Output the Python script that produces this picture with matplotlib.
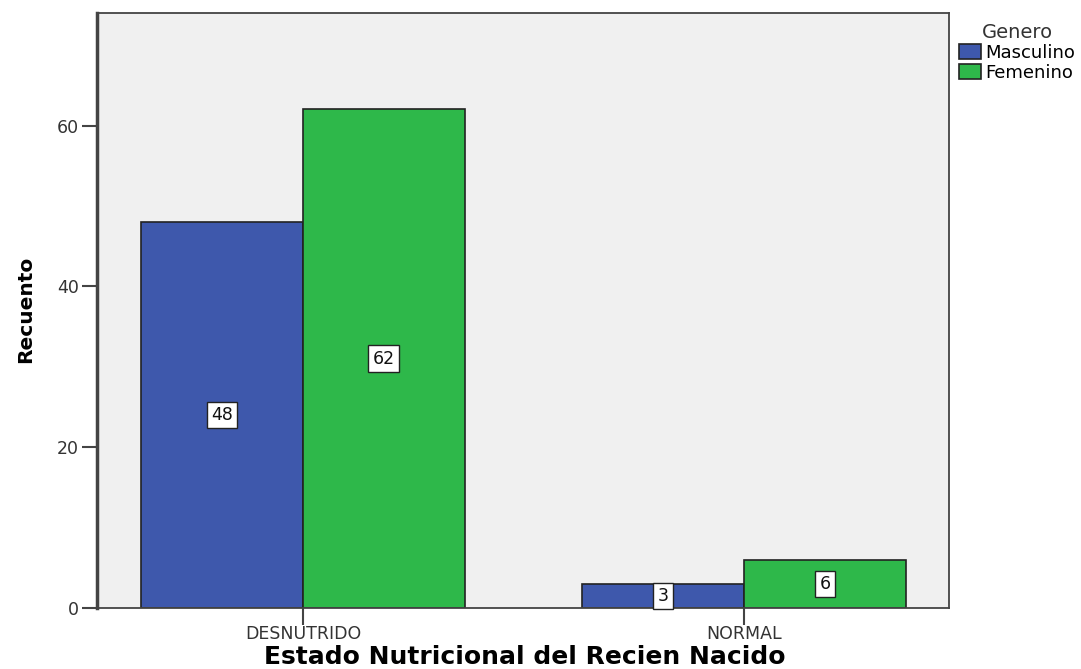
import matplotlib
matplotlib.use("Agg")
import matplotlib.pyplot as plt
import numpy as np

categories = ["DESNUTRIDO", "NORMAL"]
masculino = [48, 3]
femenino = [62, 6]
series_names = ["Masculino", "Femenino"]
colors = ["#3E58AC", "#2EB84A"]

fig = plt.figure(figsize=(10.81, 6.69), dpi=100)
ax = fig.add_axes([0.0897, 0.0912, 0.7882, 0.8894])
ax.set_facecolor("#F0F0F0")

x = np.arange(len(categories))
w = 0.367
for i, (vals, name) in enumerate(zip([masculino, femenino], series_names)):
    offs = (i - 0.5) * w
    ax.bar(x + offs, vals, w, color=colors[i], edgecolor="#222222",
           linewidth=1.2, label=name)
    for xi, v in zip(x + offs, vals):
        ax.text(xi, v / 2, str(v), ha="center", va="center", fontsize=12.5,
                family="DejaVu Sans", color="#111111",
                bbox=dict(boxstyle="square,pad=0.25", facecolor="white",
                          edgecolor="#222222", linewidth=1))

ax.set_xlim(-0.467, 1.465)
ax.set_ylim(0, 74)
ax.set_yticks([0, 20, 40, 60])
ax.set_xticks(x)
ax.set_xticklabels(categories)
ax.tick_params(axis="both", direction="out", length=11, width=1.5,
               color="#444444", labelsize=12.5, labelcolor="#333333", pad=2)
ax.tick_params(axis="x", length=12, pad=0)
for lbl in ax.get_xticklabels() + ax.get_yticklabels():
    lbl.set_family("DejaVu Sans")
for s in ax.spines.values():
    s.set_color("#444444")
    s.set_linewidth(1.3)
ax.spines["left"].set_linewidth(2.5)

fig.text(0.024, 0.537, "Recuento", rotation=90, ha="center", va="center",
         fontsize=14.5, fontweight="bold", family="DejaVu Sans")
fig.text(0.485, 0.018, "Estado Nutricional del Recien Nacido", ha="center",
         va="center", fontsize=18, fontweight="bold", family="DejaVu Sans")

leg = ax.legend(loc="upper left", bbox_to_anchor=(1.0, 1.0), title="Genero",
                frameon=False, prop={"family": "DejaVu Sans", "size": 13},
                handlelength=1.2, handleheight=0.9, handletextpad=0.25,
                labelspacing=0.1, borderaxespad=0.05, borderpad=0.5)
leg.get_title().set_family("DejaVu Sans")
leg.get_title().set_fontsize(14)
leg.get_title().set_color("#333333")
leg._legend_box.align = "center"

fig.savefig("out.png", dpi=100, facecolor="white")
